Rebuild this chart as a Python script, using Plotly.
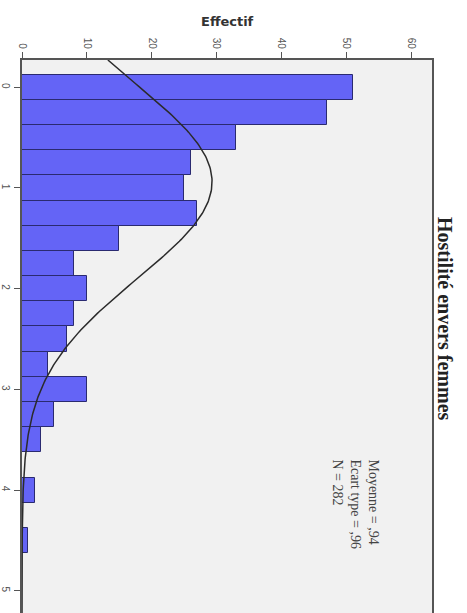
import numpy as np
import plotly.graph_objects as go

# Histogram data (bin centers, width 0.25)
bin_centers = [0.0, 0.25, 0.5, 0.75, 1.0, 1.25, 1.5, 1.75, 2.0, 2.25, 2.5, 2.75,
               3.0, 3.25, 3.5, 3.75, 4.0, 4.25, 4.5]
counts = [51, 47, 33, 26, 25, 27, 15, 8, 10, 8, 7, 4, 10, 5, 3, 0, 2, 0, 1]
bin_width = 0.25

# Summary statistics shown on the chart
mean_val = 0.94
sd_val = 0.96
n_obs = 282

count_ticks = [0, 10, 20, 30, 40, 50, 60]
value_ticks = [0, 1, 2, 3, 4, 5]

title_text = "Hostilité envers femmes"
count_title = "Effectif"
stats_text = "Moyenne = ,94<br>Ecart type = ,96<br>N = 282"

# Fitted normal curve from the stated statistics
yv = np.linspace(-0.27, 5.22, 300)
curve = n_obs * bin_width / (sd_val * np.sqrt(2 * np.pi)) * np.exp(-0.5 * ((yv - mean_val) / sd_val) ** 2)

fig = go.Figure()
fig.add_trace(go.Bar(
    x=counts, y=bin_centers, orientation="h", width=bin_width,
    marker=dict(color="#6464f6", line=dict(color="#2a2a70", width=1)),
    showlegend=False,
))
fig.add_trace(go.Scatter(
    x=curve, y=yv, mode="lines",
    line=dict(color="#2b2b2b", width=1.5), showlegend=False,
))

fig.update_layout(
    width=467, height=613,
    margin=dict(l=22, r=35, t=60, b=0),
    paper_bgcolor="white", plot_bgcolor="#f1f1f1",
    bargap=0,
    font=dict(family="Liberation Sans, Arial, sans-serif", color="#333"),
    xaxis=dict(
        side="top", range=[0, 63.2], tickvals=count_ticks,
        ticktext=[str(v) for v in count_ticks], tickangle=90,
        ticks="outside", ticklen=6, tickcolor="#555",
        tickfont=dict(size=10, color="#555"),
        showgrid=False, zeroline=False, automargin=False,
        showline=True, mirror=True, linecolor="#555", linewidth=1.5,
    ),
    yaxis=dict(
        range=[5.22, -0.27], tickvals=value_ticks,
        ticktext=[str(v) for v in value_ticks], tickangle=90,
        ticks="outside", ticklen=6, tickcolor="#555",
        tickfont=dict(size=10, color="#555"),
        showgrid=False, zeroline=False, automargin=False,
        showline=True, mirror=True, linecolor="#555", linewidth=1.5,
    ),
    annotations=[
        dict(text="<b>" + count_title + "</b>", xref="paper", yref="paper", x=0.5, y=1.0705,
             showarrow=False, xanchor="center", yanchor="middle",
             font=dict(family="DejaVu Sans, Liberation Sans, sans-serif", size=13, color="#333"),
             ),
        dict(text="<b>" + title_text + "</b>", xref="paper", yref="paper",
             x=1.0317, y=0.5316, textangle=90, showarrow=False,
             xanchor="center", yanchor="middle",
             font=dict(family="Liberation Serif, Times New Roman, serif", size=20, color="#222")),
        dict(text=stats_text, xref="x", yref="y", x=51.4, y=3.68, textangle=90,
             showarrow=False, xanchor="center", yanchor="top", align="left",
             font=dict(family="Liberation Serif, Times New Roman, serif", size=14, color="#444")),
    ],
)

fig.write_html("out.html", config={"displayModeBar": False},
               post_script="document.body.style.margin='0px';document.body.style.overflow='hidden';")
